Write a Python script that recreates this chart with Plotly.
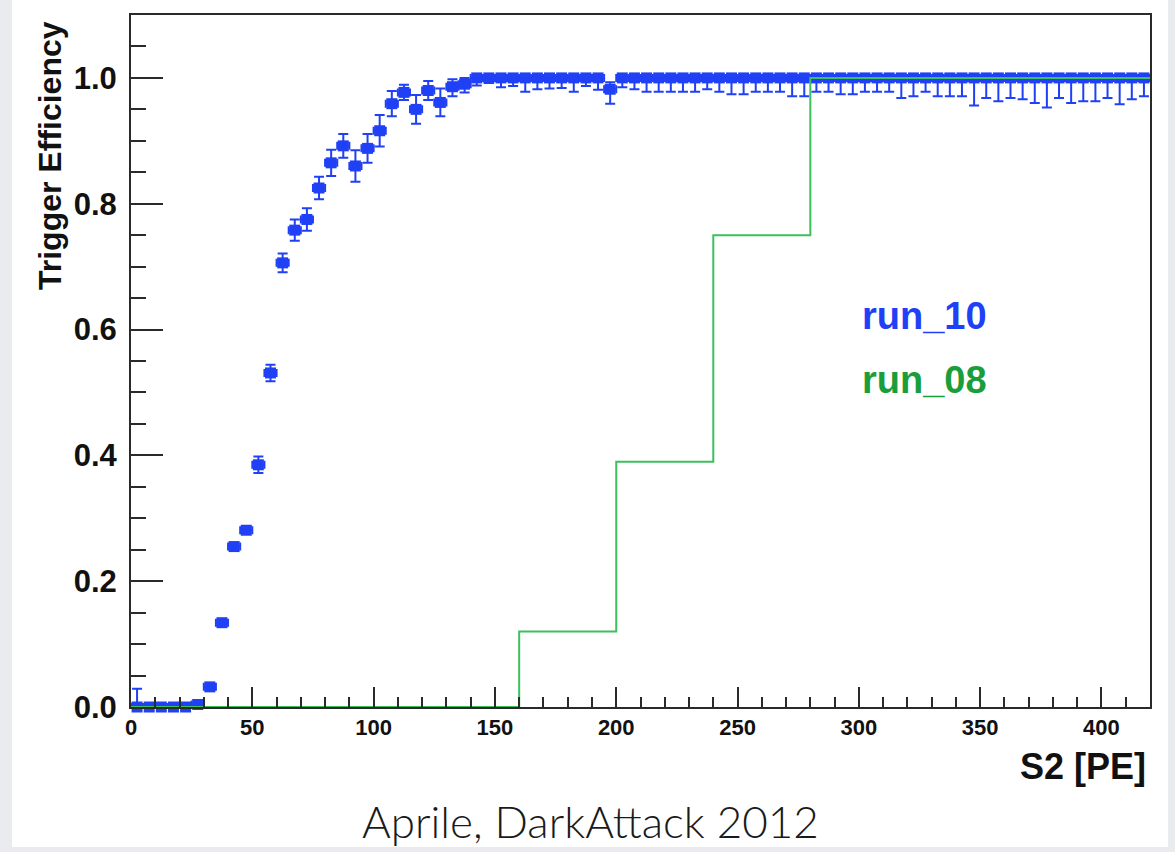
import plotly.graph_objects as go

# ---- run_10: trigger efficiency per 5 PE bin (bin centres, value, errors) ----
s2_centres = [2.5 + 5 * i for i in range(84)]
eff_run10 = [
    0.0, 0.0, 0.0, 0.0, 0.0, 0.004, 0.032, 0.134, 0.255, 0.281,
    0.385, 0.531, 0.706, 0.758, 0.775, 0.825, 0.865, 0.892, 0.860, 0.888,
    0.916, 0.959, 0.977, 0.950, 0.980, 0.961, 0.986, 0.990, 1.0, 1.0,
    1.0, 1.0, 1.0, 1.0, 1.0, 1.0, 1.0, 1.0, 1.0, 0.982,
    1.0, 1.0, 1.0, 1.0, 1.0, 1.0, 1.0, 1.0, 1.0, 1.0,
    1.0, 1.0, 1.0, 1.0, 1.0, 1.0, 1.0, 1.0, 1.0, 1.0,
    1.0, 1.0, 1.0, 1.0, 1.0, 1.0, 1.0, 1.0, 1.0, 1.0,
    1.0, 1.0, 1.0, 1.0, 1.0, 1.0, 1.0, 1.0, 1.0, 1.0,
    1.0, 1.0, 1.0, 1.0,
]
err_up_run10 = [
    0.029, 0.004, 0.004, 0.004, 0.004, 0.006, 0.005, 0.005, 0.006, 0.006,
    0.013, 0.013, 0.015, 0.017, 0.018, 0.018, 0.021, 0.019, 0.025, 0.023,
    0.025, 0.020, 0.012, 0.023, 0.015, 0.022, 0.012, 0.010, 0.002, 0.002,
    0.002, 0.002, 0.002, 0.002, 0.002, 0.002, 0.002, 0.002, 0.002, 0.011,
    0.002, 0.002, 0.002, 0.002, 0.002, 0.002, 0.002, 0.002, 0.002, 0.002,
    0.002, 0.002, 0.002, 0.002, 0.002, 0.002, 0.002, 0.002, 0.002, 0.002,
    0.002, 0.002, 0.002, 0.002, 0.002, 0.002, 0.002, 0.002, 0.002, 0.002,
    0.002, 0.002, 0.002, 0.002, 0.002, 0.002, 0.002, 0.002, 0.002, 0.002,
    0.002, 0.002, 0.002, 0.002,
]
err_dn_run10 = [
    0.0, 0.0, 0.0, 0.0, 0.0, 0.004, 0.005, 0.005, 0.006, 0.006,
    0.013, 0.013, 0.015, 0.017, 0.018, 0.018, 0.021, 0.019, 0.025, 0.023,
    0.025, 0.020, 0.012, 0.023, 0.015, 0.022, 0.015, 0.013, 0.012, 0.008,
    0.015, 0.013, 0.022, 0.018, 0.017, 0.016, 0.022, 0.013, 0.019, 0.023,
    0.015, 0.018, 0.022, 0.022, 0.022, 0.022, 0.022, 0.018, 0.022, 0.026,
    0.026, 0.022, 0.022, 0.022, 0.029, 0.029, 0.022, 0.022, 0.026, 0.026,
    0.022, 0.022, 0.022, 0.032, 0.029, 0.022, 0.029, 0.029, 0.029, 0.044,
    0.032, 0.037, 0.032, 0.034, 0.040, 0.047, 0.032, 0.040, 0.037, 0.037,
    0.032, 0.042, 0.034, 0.029,
]
half_bin = [2.5] * len(s2_centres)

# ---- run_08: coarse 40 PE histogram ----
run08_edges = [0, 40, 80, 120, 160, 200, 240, 280, 320, 360, 400, 420]
run08_values = [0.0, 0.0, 0.0, 0.0, 0.12, 0.39, 0.75, 1.0, 1.0, 1.0, 1.0]

BLUE = "#2040f6"
GREEN_LINE = "#3cc05c"
GREEN_TEXT = "#1a9e3c"
AXIS = "#2a2a2a"
BG = "#e9ebef"

W, H = 1175, 852
L, R, T, B = 131, 1150, 15, 707  # plot area in pixels


def px(xp):
    return (xp - L) / (R - L)


def py(yp):
    return (B - yp) / (B - T)


fig = go.Figure()

fig.add_trace(go.Scatter(
    x=s2_centres, y=eff_run10, mode="markers",
    marker=dict(symbol="square", size=11, color=BLUE),
    error_y=dict(type="data", symmetric=False, array=err_up_run10,
                 arrayminus=err_dn_run10, color=BLUE, thickness=2, width=5),
    error_x=dict(type="data", array=half_bin, color=BLUE, thickness=2, width=4),
    cliponaxis=False, showlegend=False, hoverinfo="skip",
))

fig.add_trace(go.Scatter(
    x=run08_edges, y=run08_values + [run08_values[-1]], mode="lines",
    line=dict(color=GREEN_LINE, width=2, shape="hv"),
    showlegend=False, hoverinfo="skip",
))

bold = dict(family="Liberation Sans, Arial, sans-serif", color="#111", weight="bold")

fig.update_xaxes(
    range=[0, 420], tickmode="linear", tick0=0, dtick=50,
    ticks="inside", ticklen=20, tickwidth=2, tickcolor=AXIS,
    minor=dict(ticks="inside", dtick=10, ticklen=10, tickwidth=2, tickcolor=AXIS),
    showline=True, linecolor=AXIS, linewidth=2, mirror=True,
    showgrid=False, zeroline=False,
    tickfont=dict(size=22, **bold),
)
fig.update_yaxes(
    range=[0, 1.1], tickmode="linear", tick0=0, dtick=0.2, tickformat=".1f",
    ticks="inside", ticklen=32, tickwidth=2, tickcolor=AXIS,
    minor=dict(ticks="inside", dtick=0.05, ticklen=15, tickwidth=2, tickcolor=AXIS),
    showline=True, linecolor=AXIS, linewidth=2, mirror=True,
    showgrid=False, zeroline=False, ticklabelstandoff=6,
    tickfont=dict(size=31, **bold),
)

annotations = [
    dict(text="Trigger Efficiency", x=px(50), y=py(156), textangle=-90,
         font=dict(size=32, **bold)),
    dict(text="S2 [PE]", x=px(1148), y=py(766), xanchor="right",
         font=dict(size=36, **bold)),
    dict(text="run_10", x=px(860), y=py(316), xanchor="left",
         font=dict(size=38, family="Liberation Sans, Arial, sans-serif",
                   color=BLUE, weight="bold")),
    dict(text="run_08", x=px(860), y=py(380), xanchor="left",
         font=dict(size=38, family="Liberation Sans, Arial, sans-serif",
                   color=GREEN_TEXT, weight="bold")),
    dict(text="Aprile, DarkAttack 2012", x=px(590), y=py(821),
         font=dict(size=44, family="Lato, sans-serif", color="#1a1a1a", weight=300)),
]
for a in annotations:
    a.update(xref="paper", yref="paper", showarrow=False,
             xanchor=a.get("xanchor", "center"), yanchor="middle")

fig.update_layout(
    width=W, height=H,
    margin=dict(l=L, r=W - R, t=T, b=H - B, pad=0),
    paper_bgcolor=BG, plot_bgcolor="white",
    annotations=annotations,
    shapes=[dict(type="rect", xref="paper", yref="paper", layer="below",
                 x0=px(12), x1=px(1168), y0=py(847), y1=py(0),
                 fillcolor="white", line=dict(width=0))],
)

fig.write_html("out.html")
